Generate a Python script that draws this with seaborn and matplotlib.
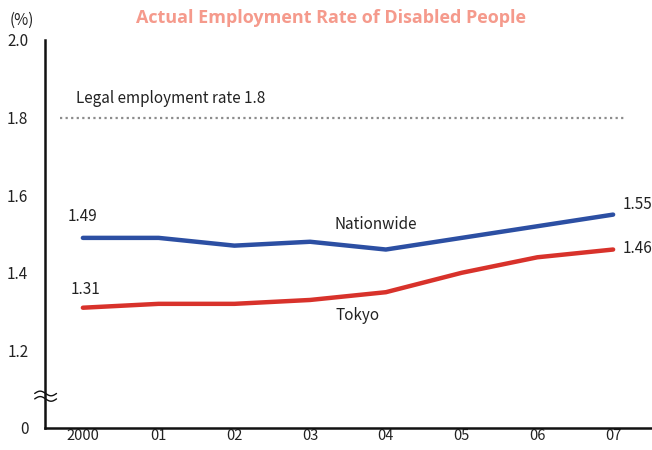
import numpy as np
import pandas as pd
import matplotlib
matplotlib.use('Agg')
import matplotlib.pyplot as plt
import seaborn as sns

# data
years = ['2000', '01', '02', '03', '04', '05', '06', '07']
nationwide = [1.49, 1.49, 1.47, 1.48, 1.46, 1.49, 1.52, 1.55]
tokyo = [1.31, 1.32, 1.32, 1.33, 1.35, 1.40, 1.44, 1.46]
legal_rate = 1.8
ytick_vals = [1.0, 1.2, 1.4, 1.6, 1.8, 2.0]
ytick_labels = ['0', '1.2', '1.4', '1.6', '1.8', '2.0']

df = pd.DataFrame({
    'year': years * 2,
    'idx': list(range(len(years))) * 2,
    'rate': nationwide + tokyo,
    'area': ['Nationwide'] * len(years) + ['Tokyo'] * len(years),
})

sns.set_style('white')
plt.rcParams['font.family'] = ['Noto Sans CJK JP', 'DejaVu Sans']

fs = 11
txt = '#222222'

fig = plt.figure(figsize=(6.52, 4.5), dpi=100)
ax = fig.add_axes([45 / 652, 22 / 450, 606 / 652, 388 / 450])

sns.lineplot(data=df, x='idx', y='rate', hue='area',
             palette={'Nationwide': '#2c4fa3', 'Tokyo': '#d8322b'},
             linewidth=3.2, legend=False, ax=ax,
             solid_capstyle='round')

# legal employment rate line
ax.hlines(legal_rate, -0.3, 7.15, colors='#8c8c8c', linestyles=(0, (1, 1.5)), linewidth=1.6)
ax.text(-0.09, 1.85, 'Legal employment rate 1.8', fontsize=fs, va='center', ha='left', color=txt)

# value labels
ax.text(0, 1.545, '1.49', fontsize=fs, ha='center', va='center', color=txt)
ax.text(0.04, 1.356, '1.31', fontsize=fs, ha='center', va='center', color=txt)
ax.text(7.12, 1.576, '1.55', fontsize=fs, ha='left', va='center', color=txt)
ax.text(7.12, 1.463, '1.46', fontsize=fs, ha='left', va='center', color=txt)
ax.text(3.87, 1.525, 'Nationwide', fontsize=fs, ha='center', va='center', color=txt)
ax.text(3.63, 1.29, 'Tokyo', fontsize=fs, ha='center', va='center', color=txt)

ax.set_xlim(-0.5, len(years) - 0.5)
ax.set_ylim(1.0, 2.0)
ax.set_xticks(range(len(years)))
ax.set_xticklabels(years, fontsize=10.5)
ax.set_xticks(np.arange(-0.5, len(years)), minor=True)
ax.tick_params(axis='x', which='major', length=0, pad=1, labelcolor=txt)
ax.tick_params(axis='x', which='minor', direction='in', length=5, width=1.5, color='#111111')
ax.set_yticks(ytick_vals)
ax.set_yticklabels(ytick_labels, fontsize=fs)
ax.tick_params(axis='y', direction='in', length=5, width=1.5, color='#111111', pad=12, labelcolor=txt)
ax.set_xlabel('')
ax.set_ylabel('')

for s in ['top', 'right']:
    ax.spines[s].set_visible(False)
for s in ['left', 'bottom']:
    ax.spines[s].set_color('#111111')
    ax.spines[s].set_linewidth(1.8)

# axis break mark
t = np.linspace(0, 1, 40)
for off in [0.0, 0.014]:
    xs = -0.017 + 0.036 * t
    ys = 0.075 + off + 0.006 * np.sin(2 * np.pi * t)
    ax.plot(xs, ys, transform=ax.transAxes, color='#111111', lw=1.0, clip_on=False)

fig.text(22 / 652, 1 - 20 / 450, '(%)', fontsize=fs, ha='center', va='center', color=txt)
fig.text(331 / 652, 1 - 18 / 450, 'Actual Employment Rate of Disabled People',
         fontsize=13, fontweight='bold', color='#f59a8c', ha='center', va='center',
         family=['Open Sans', 'DejaVu Sans'])

fig.savefig('out.png', dpi=100)
